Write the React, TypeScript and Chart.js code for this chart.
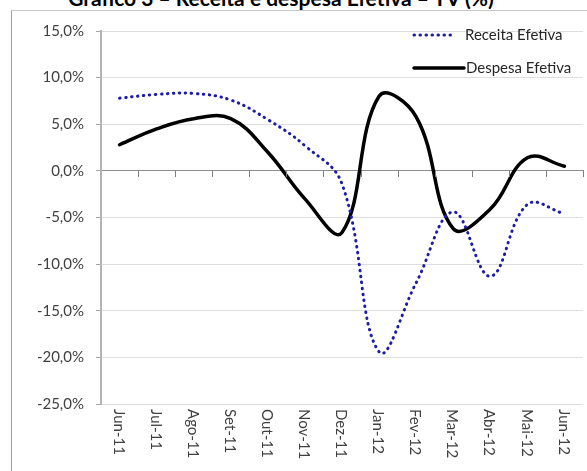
import React, { useEffect, useRef } from "react";
import { Chart, registerables } from "chart.js";

Chart.register(...registerables);

const chartTitle = "Gráfico 3 – Receita e despesa Efetiva – TV (%)";
const categories = ["Jun-11", "Jul-11", "Ago-11", "Set-11", "Out-11", "Nov-11", "Dez-11", "Jan-12", "Fev-12", "Mar-12", "Abr-12", "Mai-12", "Jun-12"];
const seriesNames = ["Receita Efetiva", "Despesa Efetiva"];
const receitaEfetiva = [7.8, 8.2, 8.3, 7.6, 5.5, 2.7, -1.4, -19.4, -12.0, -4.4, -11.3, -3.6, -4.6];
const despesaEfetiva = [2.8, 4.5, 5.6, 5.6, 2.0, -3.0, -6.6, 8.0, 5.8, -6.2, -4.1, 1.4, 0.5];
const yMin = -25;
const yMax = 15;
const yStep = 5;

const FONT = "Lato, 'Open Sans', sans-serif";

const xAxisPlugin = {
  id: "xAxisCustom",
  afterDraw(chart: any) {
    const { ctx, chartArea } = chart;
    const x = chart.scales.x;
    const y = chart.scales.y;
    const zeroY = Math.round(y.getPixelForValue(0));
    const n = chart.data.labels.length;
    ctx.save();
    // tick marks at category boundaries on the zero line
    ctx.strokeStyle = "#7f7f7f";
    ctx.lineWidth = 1;
    ctx.setLineDash([]);
    ctx.beginPath();
    for (let i = 1; i <= n; i++) {
      const half = (x.getPixelForValue(1) - x.getPixelForValue(0)) / 2;
      const px = Math.round(x.getPixelForValue(i) - half) + 0.5;
      ctx.moveTo(px, zeroY);
      ctx.lineTo(px, zeroY + 6);
    }
    ctx.stroke();
    // rotated category labels below the plot
    ctx.font = `15px ${FONT}`;
    ctx.fillStyle = "#404040";
    ctx.textAlign = "left";
    ctx.textBaseline = "middle";
    (chart.data.labels as string[]).forEach((lab, i) => {
      const px = x.getPixelForValue(i);
      ctx.save();
      ctx.translate(px - 1, chartArea.bottom + 5);
      ctx.rotate(Math.PI / 2);
      ctx.fillText(lab, 0, 0);
      ctx.restore();
    });
    ctx.restore();
  },
};

const legendPlugin = {
  id: "customLegend",
  afterDatasetsDraw(chart: any) {
    const { ctx, chartArea } = chart;
    const entries = [
      { x0: chartArea.right - 169, x1: chartArea.right - 128, tx: chartArea.right - 118, y: chartArea.top + 4 },
      { x0: chartArea.right - 169, x1: chartArea.right - 119, tx: chartArea.right - 117, y: chartArea.top + 37 },
    ];
    chart.data.datasets.forEach((ds: any, i: number) => {
      const e = entries[i];
      ctx.save();
      ctx.strokeStyle = ds.borderColor;
      ctx.lineWidth = ds.borderWidth;
      ctx.lineCap = ds.borderCapStyle || "butt";
      ctx.setLineDash(ds.borderDash || []);
      ctx.beginPath();
      ctx.moveTo(e.x0, e.y);
      ctx.lineTo(e.x1, e.y);
      ctx.stroke();
      ctx.setLineDash([]);
      ctx.font = `15px ${FONT}`;
      ctx.fillStyle = "#262626";
      ctx.textAlign = "left";
      ctx.textBaseline = "middle";
      ctx.fillText(ds.label, e.tx, e.y);
      ctx.restore();
    });
  },
};

export default function App() {
  const canvasRef = useRef<HTMLCanvasElement | null>(null);

  useEffect(() => {
    if (!canvasRef.current) return;
    const chart = new Chart(canvasRef.current, {
      type: "line",
      data: {
        labels: categories,
        datasets: [
          {
            label: seriesNames[0],
            data: receitaEfetiva,
            borderColor: "#1c1ca8",
            borderWidth: 3,
            borderDash: [0.5, 5.5],
            borderCapStyle: "round",
            tension: 0.4,
            pointRadius: 0,
            fill: false,
          },
          {
            label: seriesNames[1],
            data: despesaEfetiva,
            borderColor: "#000000",
            borderWidth: 3.5,
            borderCapStyle: "round",
            tension: 0.4,
            pointRadius: 0,
            fill: false,
          },
        ],
      },
      options: {
        responsive: false,
        animation: false,
        devicePixelRatio: 1,
        layout: { padding: { top: 31, right: 4, bottom: 67, left: 0 } },
        plugins: {
          legend: { display: false },
          title: { display: false },
          tooltip: { enabled: false },
        },
        scales: {
          x: {
            type: "category",
            position: { y: 0 } as any,
            offset: true,
            ticks: { display: false },
            grid: { display: false },
            border: { display: true, color: "#8c8c8c", width: 1 },
          },
          y: {
            min: yMin,
            max: yMax,
            ticks: {
              stepSize: yStep,
              padding: 12,
              color: "#404040",
              font: { family: FONT, size: 15 },
              callback: (v: any) => Number(v).toFixed(1).replace(".", ",") + "%",
            },
            grid: { color: "#dedede", tickColor: "#a6a6a6", tickLength: 5 },
            border: { color: "#b4b4b4", width: 2 },
            afterFit: (s: any) => {
              s.width = 101;
            },
          },
        },
      },
      plugins: [xAxisPlugin, legendPlugin],
    });
    return () => chart.destroy();
  }, []);

  return (
    <div style={{ position: "fixed", left: 0, top: 0, width: 587, height: 471, overflow: "hidden", background: "#fff" }}>
      <div
        style={{
          position: "absolute",
          top: -13,
          left: 0,
          width: 562,
          textAlign: "center",
          font: `bold 21px ${FONT}`,
          lineHeight: "21px",
          whiteSpace: "nowrap",
          color: "#000",
        }}
      >
        {chartTitle}
      </div>
      <div
        style={{
          position: "absolute",
          left: 11,
          top: 10,
          width: 620,
          height: 520,
          borderLeft: "1px solid #a0a0a0",
          borderTop: "1px solid #c8c8c8",
        }}
      />
      <canvas ref={canvasRef} width={587} height={471} style={{ position: "absolute", left: 0, top: 0 }} />
    </div>
  );
}
